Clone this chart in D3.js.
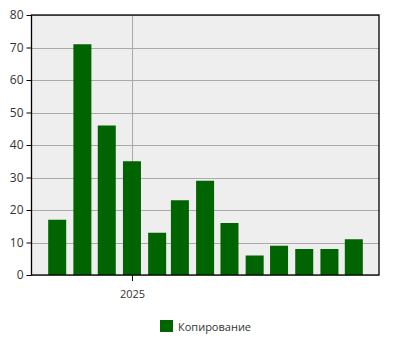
<!DOCTYPE html>
<html>
<head>
<meta charset="utf-8">
<script src="https://cdn.jsdelivr.net/npm/d3@7"></script>
<style>
  body { margin: 0; background: #fff; }
  text { font-family: "Open Sans", "DejaVu Sans", sans-serif; font-size: 11px; fill: #333; }
</style>
</head>
<body>
<svg id="chart"></svg>
<script>
// monthly values, Oct 2024 .. Oct 2025
var months = ["2024-10-01", "2024-11-01", "2024-12-01", "2025-01-01", "2025-02-01", "2025-03-01",
              "2025-04-01", "2025-05-01", "2025-06-01", "2025-07-01", "2025-08-01", "2025-09-01", "2025-10-01"];
var counts = [17, 71, 46, 35, 13, 23, 29, 16, 6, 9, 8, 8, 11];
var yTicks = [0, 10, 20, 30, 40, 50, 60, 70, 80];
var seriesName = "Копирование";

var width = 400, height = 350;
var margin = {top: 15, right: 21, bottom: 75, left: 32};
var barColor = "#006400";

var svg = d3.select("#chart").attr("width", width).attr("height", height);
var parse = d3.timeParse("%Y-%m-%d");
var data = months.map(function(m, i){ return {date: parse(m), value: counts[i]}; });

var x = d3.scaleTime()
    .domain([parse("2024-08-31"), parse("2025-11-01")])
    .range([margin.left, width - margin.right]);
var y = d3.scaleLinear()
    .domain([0, 80])
    .range([height - margin.bottom, margin.top]);

// plot background
svg.append("rect")
    .attr("x", margin.left).attr("y", margin.top)
    .attr("width", width - margin.left - margin.right)
    .attr("height", height - margin.top - margin.bottom)
    .attr("fill", "#eeeeee");

// horizontal grid
svg.append("g").selectAll("line")
    .data(yTicks)
    .enter().append("line")
    .attr("x1", margin.left).attr("x2", width - margin.right)
    .attr("y1", function(d){ return Math.round(y(d)) + 0.5; })
    .attr("y2", function(d){ return Math.round(y(d)) + 0.5; })
    .attr("stroke", "#aaaaaa");

// vertical grid at year boundary
var xTicks = [parse("2025-01-01")];
svg.append("g").selectAll("line")
    .data(xTicks)
    .enter().append("line")
    .attr("x1", function(d){ return Math.round(x(d)) + 0.5; })
    .attr("x2", function(d){ return Math.round(x(d)) + 0.5; })
    .attr("y1", margin.top).attr("y2", height - margin.bottom)
    .attr("stroke", "#aaaaaa");

// bars
var barW = 18;
svg.append("g").selectAll("rect")
    .data(data)
    .enter().append("rect")
    .attr("x", function(d){ return x(d.date) - barW / 2; })
    .attr("y", function(d){ return y(d.value); })
    .attr("width", barW)
    .attr("height", function(d){ return y(0) - y(d.value); })
    .attr("fill", barColor);

// frame
svg.append("rect")
    .attr("x", margin.left - 0.5).attr("y", margin.top)
    .attr("width", width - margin.left - margin.right + 0.5)
    .attr("height", height - margin.top - margin.bottom)
    .attr("fill", "none").attr("stroke", "#000").attr("stroke-width", 1.3);

// axes
var yAxis = svg.append("g")
    .attr("transform", "translate(" + (margin.left - 0.5) + ",0)")
    .call(d3.axisLeft(y).tickValues(yTicks).tickSize(5).tickPadding(3));
yAxis.select(".domain").remove();
yAxis.selectAll("text").style("font-size", "12px");

var xAxis = svg.append("g")
    .attr("transform", "translate(0," + (height - margin.bottom) + ")")
    .call(d3.axisBottom(x).tickValues(xTicks).tickFormat(d3.timeFormat("%Y")).tickSize(6).tickPadding(9));
xAxis.select(".domain").remove();

// legend
var legend = svg.append("g").attr("transform", "translate(160,320)");
legend.append("rect").attr("width", 13).attr("height", 12).attr("fill", barColor);
legend.append("text").attr("x", 18).attr("y", 10.5).text(seriesName);
</script>
</body>
</html>
